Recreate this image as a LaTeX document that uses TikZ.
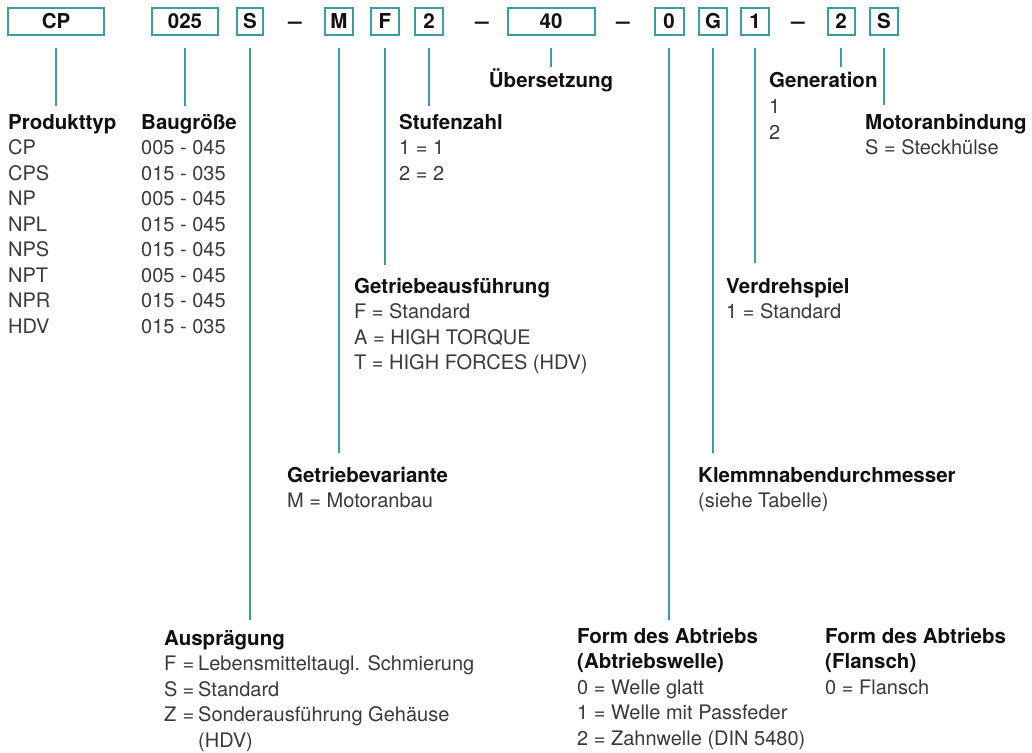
\documentclass[tikz,border=0pt]{standalone}
\usepackage{fontspec}
\setmainfont{TeX Gyre Heros}
\usepackage{xcolor}
\usetikzlibrary{calc}
\definecolor{bg}{HTML}{FFFFFF}
\definecolor{frame}{HTML}{3A9DA5}
\definecolor{head}{HTML}{111111}
\definecolor{body}{HTML}{3A3A3A}
\newcommand{\txt}{\fontsize{20bp}{25.5bp}\selectfont}
\newcommand{\bld}{\fontsize{20.5bp}{25.5bp}\selectfont\bfseries}
\newcommand{\hd}[1]{{\bld\color{head}#1}}
\tikzset{
  code/.style={
    draw=frame,
    line width=2bp,
    minimum height=27bp,
    inner sep=0pt,
    font=\bld,
    text=head,
    text height=14bp,
    text depth=0pt
  },
  sep/.style={anchor=base, inner sep=0pt, font=\bld, text=head},
  link/.style={draw=frame, line width=2bp},
  info/.style={anchor=base west, inner sep=0pt, font=\txt, text=body},
  title/.style={anchor=base, inner sep=0pt, font=\bld, text=head}
}

\begin{document}
\begin{tikzpicture}[x=1bp, y=-1bp]
  \useasboundingbox[fill=bg] (0,0) rectangle (1032,753);

  % type code boxes
  \node[code, minimum width=96bp] (bTyp)   at (56,21.5)  {CP};
  \node[code, minimum width=66bp] (bSize)  at (185,21.5) {025};
  \node[code, minimum width=26bp] (bForm)  at (250,21.5) {S};
  \node[sep, xscale=1.2]          (d1)     at (295,28.5) {--};
  \node[code, minimum width=28bp] (bVar)   at (339,21.5) {M};
  \node[code, minimum width=28bp] (bExec)  at (385,21.5) {F};
  \node[code, minimum width=28bp] (bStage) at (429,21.5) {2};
  \node[sep, xscale=1.2]          (d2)     at (482,28.5) {--};
  \node[code, minimum width=87bp] (bRatio) at (551,21.5) {40};
  \node[sep, xscale=1.2]          (d3)     at (623,28.5) {--};
  \node[code, minimum width=29bp] (bShaft) at (669,21.5) {0};
  \node[code, minimum width=28bp] (bHub)   at (713,21.5) {G};
  \node[code, minimum width=28bp] (bPlay)  at (755,21.5) {1};
  \node[sep, xscale=1.2]          (d4)     at (798,28.5) {--};
  \node[code, minimum width=27bp] (bGen)   at (841,21.5) {2};
  \node[code, minimum width=28bp] (bMotor) at (884,21.5) {S};

  % leader lines down to the legends
  \foreach \b/\e in {Typ/106,Size/106,Form/620,Var/453,Exec/265,Stage/106,
                     Ratio/67,Shaft/620,Hub/453,Play/263,Gen/67,Motor/105}{
    \coordinate (e\b) at (b\b.south |- 0,\e);
    \draw[link] ([yshift=-12.5bp]b\b.south) -- (e\b);
  }

  % legends
  \node[info] (tTyp) at (8,129)
  {\begin{tabular}[t]{@{}l@{}}\hd{Produkttyp}\\CP\\CPS\\NP\\NPL\\NPS\\NPT\\NPR\\HDV\end{tabular}};
  \node[info] (tSize) at (141,129)
  {\begin{tabular}[t]{@{}l@{}}\hd{Baugröße}\\005 - 045\\015 - 035\\005 - 045\\015 - 045\\015 - 045\\005 - 045\\015 - 045\\015 - 035\end{tabular}};
  \node[info] (tStage) at (399,129)
  {\begin{tabular}[t]{@{}l@{}}\hd{Stufenzahl}\\1 = 1\\2 = 2\end{tabular}};
  \node[title] (tRatio) at (551,88) {Übersetzung};
  \node[info] (tGen) at (769,88)
  {\begin{tabular}[t]{@{}l@{}}\hd{Generation}\\1\\2\end{tabular}};
  \node[info] (tMotor) at (865,129)
  {\begin{tabular}[t]{@{}l@{}}\hd{Motoranbindung}\\S = Steckhülse\end{tabular}};
  \node[info] (tExec) at (354,293)
  {\begin{tabular}[t]{@{}l@{}}\hd{Getriebeausführung}\\F = Standard\\A = HIGH TORQUE\\T = HIGH FORCES (HDV)\end{tabular}};
  \node[info] (tPlay) at (726,293)
  {\begin{tabular}[t]{@{}l@{}}\hd{Verdrehspiel}\\1 = Standard\end{tabular}};
  \node[info] (tVar) at (287,482)
  {\begin{tabular}[t]{@{}l@{}}\hd{Getriebevariante}\\M = Motoranbau\end{tabular}};
  \node[info] (tHub) at (698,482)
  {\begin{tabular}[t]{@{}l@{}}\hd{Klemmnabendurchmesser}\\(siehe Tabelle)\end{tabular}};
  \node[info] (tForm) at (164,645)
  {\begin{tabular}[t]{@{}l@{\hspace{5bp}}c@{\hspace{4bp}}l@{}}
    \multicolumn{3}{@{}l@{}}{\hd{Ausprägung}}\\
    F & = & Lebensmitteltaugl. Schmierung\\
    S & = & Standard\\
    Z & = & Sonderausführung Gehäuse\\
      &   & (HDV)
  \end{tabular}};
  \node[info] (tShaft) at (577,643)
  {\begin{tabular}[t]{@{}l@{}}\hd{Form des Abtriebs}\\\hd{(Abtriebswelle)}\\0 = Welle glatt\\1 = Welle mit Passfeder\\2 = Zahnwelle (DIN 5480)\end{tabular}};
  \node[info] (tFlange) at (825,643)
  {\begin{tabular}[t]{@{}l@{}}\hd{Form des Abtriebs}\\\hd{(Flansch)}\\0 = Flansch\end{tabular}};
\end{tikzpicture}
\end{document}
